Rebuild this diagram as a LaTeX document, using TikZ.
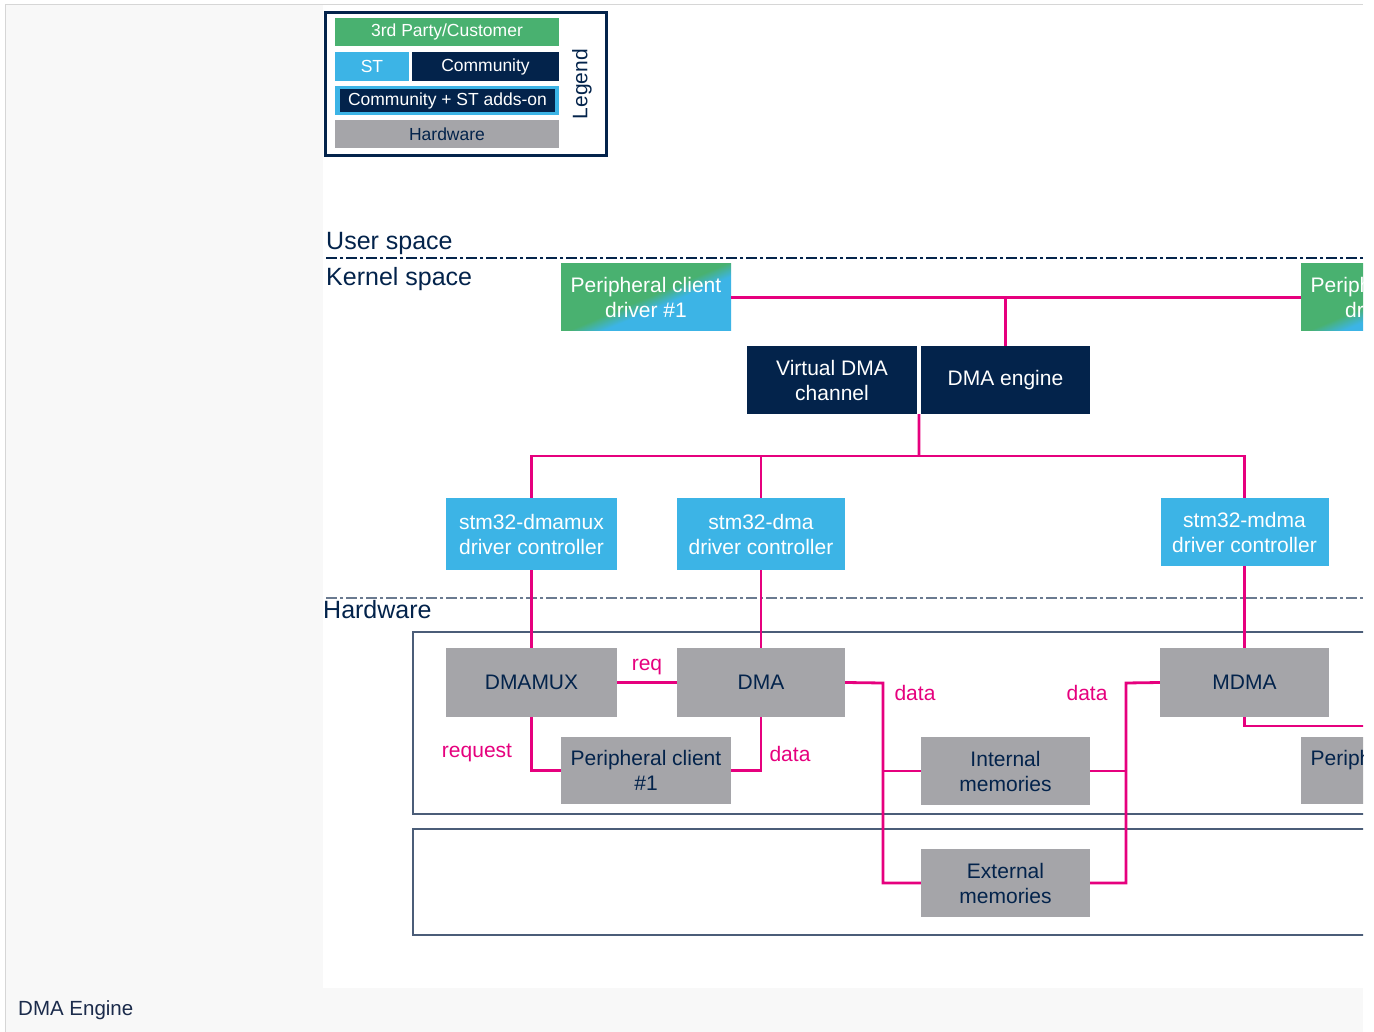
\documentclass[tikz,border=0pt]{standalone}
\usepackage{fontspec}
\setmainfont{Liberation Sans}
\usetikzlibrary{calc}
\definecolor{stgreen}{HTML}{49B170}
\definecolor{stblue}{HTML}{3CB4E6}
\definecolor{stnavy}{HTML}{03234B}
\definecolor{hwgray}{HTML}{A5A5A9}
\definecolor{stpink}{HTML}{E6007E}
\definecolor{panelbg}{HTML}{F8F8F8}
\definecolor{panelborder}{HTML}{D6D6D6}
\definecolor{frameblue}{HTML}{4B5D78}
\definecolor{sepgray}{HTML}{6A7A90}
\definecolor{captext}{HTML}{1B2B4B}
\pgfdeclarehorizontalshading{pcdshade}{100bp}{color(0bp)=(stgreen); color(50bp)=(stgreen); color(57bp)=(stblue); color(100bp)=(stblue)}
\begin{document}
\begin{tikzpicture}[x=1pt,y=-1pt,
  wh/.style 2 args={minimum width=#1pt, minimum height=#2pt},
  box/.style={inner sep=0pt, align=center, font=\fontsize{21}{25}\selectfont, text=white},
  bluebox/.style={box, fill=stblue},
  navybox/.style={box, fill=stnavy},
  hwbox/.style={box, fill=hwgray, text=stnavy},
  gradbox/.style={box, shade, shading=pcdshade, shading angle=-67},
  link/.style={draw=stpink, line width=2.8pt},
  lbl/.style={text=stpink, font=\fontsize{21}{25}\selectfont, inner sep=0pt},
  sepline/.style={line width=1.6pt, dash pattern=on 11pt off 3pt on 3pt off 3pt},
  hwframe/.style={draw=frameblue, line width=1.5pt},
  lg/.style={inner sep=0pt, align=center, font=\fontsize{17.5}{20}\selectfont, text=white},
  zone/.style={font=\fontsize{25}{30}\selectfont, text=stnavy, inner sep=0pt, anchor=base west}
]
\useasboundingbox (0,0) rectangle (1374,1032);
% page panel
\fill[panelbg] (5,4) rectangle (1363,1032);
\draw[panelborder, line width=1pt] (5.5,1032) -- (5.5,4.5) -- (1363,4.5);
\fill[white] (323,5) rectangle (1363,988);
\node[anchor=base west, inner sep=0pt, text=captext, font=\fontsize{20.5}{24}\selectfont] (caption) at (18,1015) {DMA Engine};

\begin{scope}
\clip (323,5) rectangle (1363,988);
% legend
\draw[stnavy, line width=2.5pt, fill=white] (325.5,12.5) rectangle (606.5,155.5);
\node[lg, fill=stgreen, wh={224}{28}] (lg3rd) at (447,32) {3rd Party/Customer};
\node[lg, fill=stblue, wh={74}{29}] (lgst) at (372,66.5) {ST};
\node[lg, fill=stnavy, wh={147}{29}] (lgcom) at (485.5,66.5) {Community};
\node[lg, fill=stblue, wh={224}{29}] (lgaddout) at (447,100.5) {};
\node[lg, fill=stnavy, wh={215}{23}] (lgadd) at (447.5,100.5) {Community + ST adds-on};
\node[lg, fill=hwgray, text=stnavy, wh={224}{28}] (lghw) at (447,134) {Hardware};
\node[rotate=90, inner sep=0pt, text=stnavy, font=\fontsize{21}{25}\selectfont] (lgtitle) at (582,84) {Legend};

% zones
\node[zone] (userspace) at (326,250) {User space};
\node[zone] (kernelspace) at (326,286) {Kernel space};
\node[zone] (hardware) at (323,618) {Hardware};
\draw[sepline, stnavy] (326,258) -- (1363,258);
\draw[sepline, sepgray] (326,598) -- (1363,598);
\draw[hwframe] (413,632) rectangle (1420,814);
\draw[hwframe] (413,829) rectangle (1420,935);

% kernel nodes
\node[gradbox, wh={170}{67}] (pcd1) at (646,297.5) {Peripheral client\\driver \#1};
\node[gradbox, wh={170}{67}] (pcd2) at (1386,297.5) {Peripheral client\\driver \#2};
\node[navybox, wh={170}{68}] (vdma) at (832,380) {Virtual DMA\\channel};
\node[navybox, wh={169}{68}] (dmaeng) at (1005.5,380) {DMA engine};
\node[bluebox, wh={171}{72}] (dmamuxdrv) at (531.5,534) {stm32-dmamux\\driver controller};
\node[bluebox, wh={168}{72}] (dmadrv) at (761,534) {stm32-dma\\driver controller};
\node[bluebox, wh={168}{68}] (mdmadrv) at (1244.5,532) {stm32-mdma\\driver controller};

% hardware nodes
\node[hwbox, wh={171}{69}] (dmamux) at (531.5,682.5) {DMAMUX};
\node[hwbox, wh={168}{69}] (dma) at (761,682.5) {DMA};
\node[hwbox, wh={169}{69}] (mdma) at (1244.5,682.5) {MDMA};
\node[hwbox, wh={170}{67}] (pc1) at (646,770.5) {Peripheral client\\\#1};
\node[hwbox, wh={170}{67}] (pc2) at (1386,770.5) {Peripheral client\\\#2};
\node[hwbox, wh={169}{68}] (intmem) at (1005.5,771) {Internal\\memories};
\node[hwbox, wh={169}{68}] (extmem) at (1005.5,883) {External\\memories};

% coordinates
\coordinate (vj) at ($(vdma.south east)!0.5!(dmaeng.south west)$);
\coordinate (bus) at (919,456);
\coordinate (dl) at (883,683);
\coordinate (dr) at (1126,683);
\coordinate (mr) at (1400,726);

% kernel connectors
\draw[link] (pcd1.east) -- (pcd2.west);
\draw[link] (dmaeng.north) -- (dmaeng.north |- pcd1.east);
\draw[link] (vj) -- (bus);
\draw[link] (dmamuxdrv.north) |- (mdmadrv.north |- bus) -- (mdmadrv.north);
\draw[link] (dmadrv.north) -- (dmadrv.north |- bus);
\draw[link] (dmamuxdrv.south) -- (dmamux.north);
\draw[link] (dmadrv.south) -- (dma.north);
\draw[link] (mdmadrv.south) -- (mdma.north);

% hardware connectors
\draw[link] (dmamux.east) -- (dma.west |- dmamux.east);
\draw[link] (dmamux.south) |- (pc1.west);
\draw[link] (dma.south) |- (pc1.east);
\draw[link] (dma.east) -- (dl) |- (extmem.west);
\draw[link] (dl |- intmem.west) -- (intmem.west);
\draw[link] (mdma.west) -- (dr) |- (extmem.east);
\draw[link] (dr |- intmem.east) -- (intmem.east);
\draw[link] (mdma.south) |- (mr);

% labels
\node[lbl] (lreq) at (647,667) {req};
\node[lbl] (lrequest) at (477,753) {request};
\node[lbl] (ldata1) at (790,754) {data};
\node[lbl] (ldata2) at (915,693) {data};
\node[lbl] (ldata3) at (1087,693) {data};
\end{scope}
\end{tikzpicture}
\end{document}
